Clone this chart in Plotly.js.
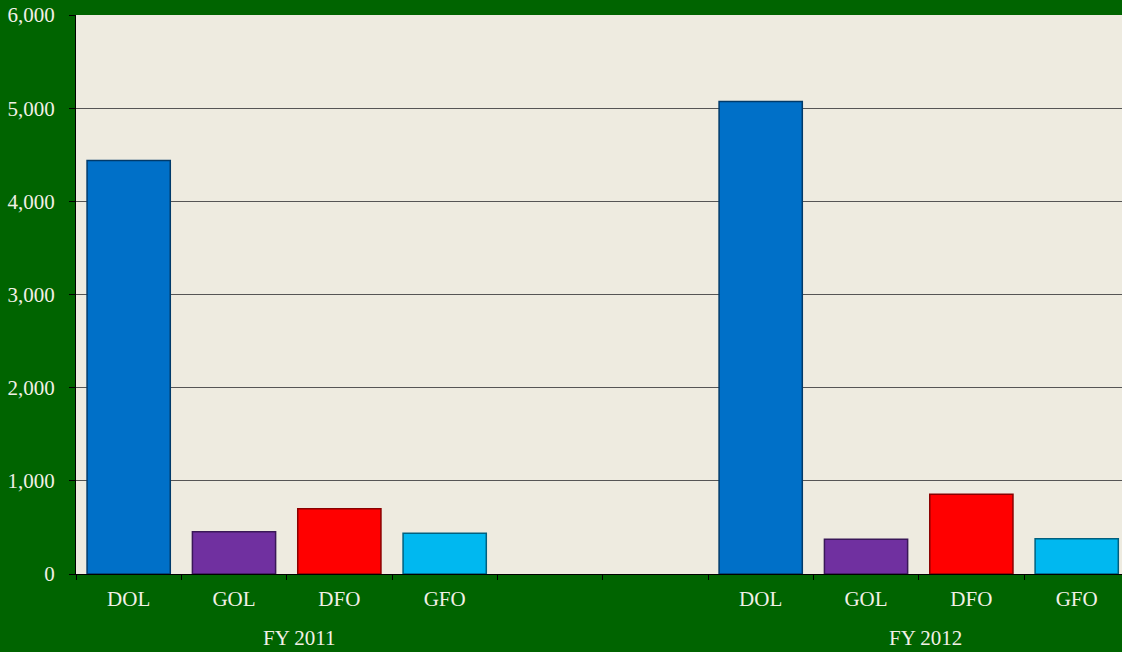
<!DOCTYPE html>
<html>
<head>
<meta charset="utf-8">
<script src="https://cdn.plot.ly/plotly-3.0.1.min.js"></script>
<style>html,body{margin:0;padding:0;background:#006400;}#chart{width:1122px;height:652px;}</style>
</head>
<body>
<div id="chart"></div>
<script>
// Data
const categories = ["DOL", "GOL", "DFO", "GFO"];
const groups = ["FY 2011", "FY 2012"];
const values2011 = [4437, 454, 701, 437];
const values2012 = [5071, 372, 856, 379];
const barColors = ["#0070C8", "#7030A0", "#FF0000", "#00B8F0"];
const edgeColors = ["#003A6A", "#3A1858", "#8A0000", "#00607F"];
// slot index of each category within the 10-slot axis (two blank slots between groups)
const slots2011 = [0, 1, 2, 3];
const slots2012 = [6, 7, 8, 9];
const yTickVals = [0, 1000, 2000, 3000, 4000, 5000, 6000];

const nSlots = 10;
const xs = slots2011.concat(slots2012);
const ys = values2011.concat(values2012);
const cols = barColors.concat(barColors);
const lineCols = edgeColors.concat(edgeColors);
const tickText = categories.concat(categories);
const boundaries = [];
for (let i = 0; i <= nSlots; i++) boundaries.push(i - 0.5);
const xRange = [-0.5, 9.43];

const font = {family: "Liberation Serif, Times New Roman, serif", size: 21, color: "#F2F0E6"};

const trace = {
  type: "bar",
  x: xs,
  y: ys,
  width: 0.79,
  marker: {color: cols, line: {color: lineCols, width: 1.5}},
  hoverinfo: "skip"
};
const tickTrace = {type: "scatter", x: [], y: [], xaxis: "x2", showlegend: false};

const layout = {
  width: 1122, height: 652,
  margin: {l: 76, r: 0, t: 15, b: 78},
  paper_bgcolor: "#006400",
  plot_bgcolor: "#EEEBE0",
  showlegend: false,
  font: font,
  xaxis: {
    range: xRange,
    tickvals: xs, ticktext: tickText,
    ticks: "", showgrid: false, zeroline: false,
    showline: true, linecolor: "#000", linewidth: 1,
    tickfont: font, ticklabelstandoff: 6,
    fixedrange: true
  },
  xaxis2: {
    overlaying: "x", side: "bottom", anchor: "y",
    range: xRange,
    tickvals: boundaries, ticks: "outside", ticklen: 5, tickcolor: "#000",
    showticklabels: false, showgrid: false, zeroline: false, showline: false
  },
  yaxis: {
    range: [0, 6000],
    tickvals: yTickVals, tickformat: ",d",
    ticks: "outside", ticklen: 6, tickcolor: "#000",
    showgrid: true, gridcolor: "#555555", gridwidth: 1,
    zeroline: true, zerolinecolor: "#000", zerolinewidth: 1,
    showline: true, linecolor: "#000", linewidth: 1,
    tickfont: font, ticklabelstandoff: 10,
    fixedrange: true
  },
  annotations: [
    {text: groups[0], x: 1.626, xref: "x", y: 0, yref: "paper", yanchor: "bottom", yshift: -77, borderpad: 0, showarrow: false, font: font},
    {text: groups[1], x: 7.568, xref: "x", y: 0, yref: "paper", yanchor: "bottom", yshift: -77, borderpad: 0, showarrow: false, font: font}
  ]
};

Plotly.newPlot("chart", [trace, tickTrace], layout, {displayModeBar: false, staticPlot: true});
</script>
</body>
</html>
